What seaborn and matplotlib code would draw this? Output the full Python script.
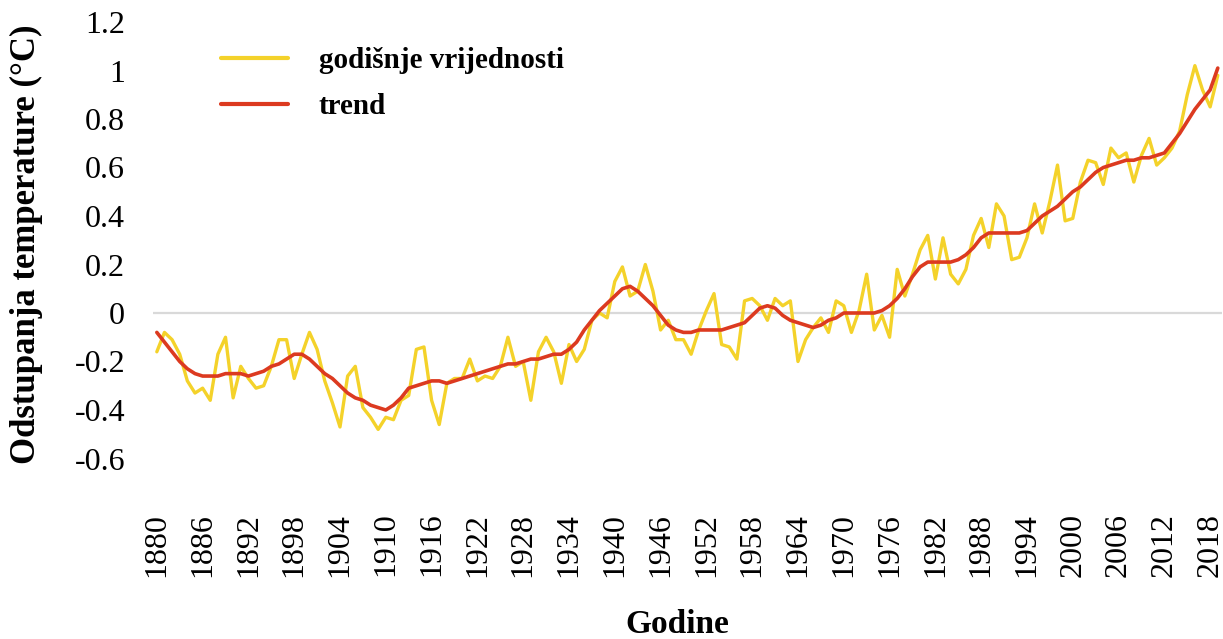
import matplotlib
matplotlib.use("Agg")
import matplotlib.pyplot as plt
import seaborn as sns
import pandas as pd

years = list(range(1880, 2020))

annual = [
    -0.16, -0.08, -0.11, -0.17, -0.28, -0.33, -0.31, -0.36, -0.17, -0.10,
    -0.35, -0.22, -0.27, -0.31, -0.30, -0.22, -0.11, -0.11, -0.27, -0.17,
    -0.08, -0.15, -0.28, -0.37, -0.47, -0.26, -0.22, -0.39, -0.43, -0.48,
    -0.43, -0.44, -0.36, -0.34, -0.15, -0.14, -0.36, -0.46, -0.29, -0.27,
    -0.27, -0.19, -0.28, -0.26, -0.27, -0.22, -0.10, -0.22, -0.20, -0.36,
    -0.16, -0.10, -0.16, -0.29, -0.13, -0.20, -0.15, -0.03, -0.00, -0.02,
    0.13, 0.19, 0.07, 0.09, 0.20, 0.09, -0.07, -0.03, -0.11, -0.11,
    -0.17, -0.07, 0.01, 0.08, -0.13, -0.14, -0.19, 0.05, 0.06, 0.03,
    -0.03, 0.06, 0.03, 0.05, -0.20, -0.11, -0.06, -0.02, -0.08, 0.05,
    0.03, -0.08, 0.01, 0.16, -0.07, -0.01, -0.10, 0.18, 0.07, 0.16,
    0.26, 0.32, 0.14, 0.31, 0.16, 0.12, 0.18, 0.32, 0.39, 0.27,
    0.45, 0.40, 0.22, 0.23, 0.31, 0.45, 0.33, 0.46, 0.61, 0.38,
    0.39, 0.54, 0.63, 0.62, 0.53, 0.68, 0.64, 0.66, 0.54, 0.65,
    0.72, 0.61, 0.64, 0.68, 0.75, 0.90, 1.02, 0.92, 0.85, 0.98,
]

trend = [
    -0.08, -0.12, -0.16, -0.20, -0.23, -0.25, -0.26, -0.26, -0.26, -0.25,
    -0.25, -0.25, -0.26, -0.25, -0.24, -0.22, -0.21, -0.19, -0.17, -0.17,
    -0.19, -0.22, -0.25, -0.27, -0.30, -0.33, -0.35, -0.36, -0.38, -0.39,
    -0.40, -0.38, -0.35, -0.31, -0.30, -0.29, -0.28, -0.28, -0.29, -0.28,
    -0.27, -0.26, -0.25, -0.24, -0.23, -0.22, -0.21, -0.21, -0.20, -0.19,
    -0.19, -0.18, -0.17, -0.17, -0.15, -0.12, -0.07, -0.03, 0.01, 0.04,
    0.07, 0.10, 0.11, 0.09, 0.06, 0.03, -0.01, -0.05, -0.07, -0.08,
    -0.08, -0.07, -0.07, -0.07, -0.07, -0.06, -0.05, -0.04, -0.01, 0.02,
    0.03, 0.02, -0.01, -0.03, -0.04, -0.05, -0.06, -0.05, -0.03, -0.02,
    0.00, 0.00, 0.00, 0.00, 0.00, 0.01, 0.03, 0.06, 0.10, 0.15,
    0.19, 0.21, 0.21, 0.21, 0.21, 0.22, 0.24, 0.27, 0.31, 0.33,
    0.33, 0.33, 0.33, 0.33, 0.34, 0.37, 0.40, 0.42, 0.44, 0.47,
    0.50, 0.52, 0.55, 0.58, 0.60, 0.61, 0.62, 0.63, 0.63, 0.64,
    0.64, 0.65, 0.66, 0.70, 0.74, 0.79, 0.84, 0.88, 0.92, 0.97,
]
trend[-1] = 1.01

y_ticks = [-0.6, -0.4, -0.2, 0, 0.2, 0.4, 0.6, 0.8, 1, 1.2]
y_tick_labels = ["-0.6", "-0.4", "-0.2", "0", "0.2", "0.4", "0.6", "0.8", "1", "1.2"]
x_tick_years = list(range(1880, 2019, 6))

label_annual = "godišnje vrijednosti"
label_trend = "trend"
color_annual = "#F4D22A"
color_trend = "#DC3A20"

df = pd.DataFrame({"Godina": years, "annual": annual, "trend": trend})

sns.set_theme(style="white")
plt.rcParams["font.family"] = ["Liberation Serif", "DejaVu Serif"]
plt.rcParams["axes.unicode_minus"] = False
plt.rcParams["text.color"] = "black"
plt.rcParams["axes.labelcolor"] = "black"
plt.rcParams["xtick.color"] = "black"
plt.rcParams["ytick.color"] = "black"

fig = plt.figure(figsize=(12.23, 6.39), dpi=100)
ax = fig.add_axes([153 / 1223, (639 - 458.5) / 639, 1068.6 / 1223, 436.5 / 639])

ax.axhline(0, color="#D9D9D9", lw=1.6, zorder=1)

sns.lineplot(data=df, x="Godina", y="annual", color=color_annual,
             linewidth=2.4, label=label_annual, ax=ax, zorder=3)
sns.lineplot(data=df, x="Godina", y="trend", color=color_trend,
             linewidth=2.6, label=label_trend, ax=ax, zorder=4)

ax.set_xlim(1879.5, 2019.5)
ax.set_ylim(-0.6, 1.2)
ax.set_yticks(y_ticks)
ax.set_yticklabels(y_tick_labels, fontsize=23, color="black")
ax.set_xticks(x_tick_years)
ax.set_xticklabels([str(y) for y in x_tick_years], fontsize=23, rotation=90, color="black")
ax.tick_params(axis="y", length=0, pad=20)
ax.tick_params(axis="x", length=0, pad=39)
for s in ax.spines.values():
    s.set_visible(False)

ax.set_xlabel("Godine", fontsize=24, fontweight="bold", color="black")
ax.xaxis.set_label_coords((677 - 153) / 1068.6, -0.345)
ax.set_ylabel("Odstupanja temperature (°C)", fontsize=25, fontweight="bold", color="black")
ax.yaxis.set_label_coords(-0.103, 0.49)

handles, labels = ax.get_legend_handles_labels()
leg = ax.legend(handles, labels, loc="upper left",
                bbox_to_anchor=(221 / 1223, 1 - 47 / 639),
                bbox_transform=fig.transFigure, frameon=False,
                prop={"family": "Liberation Serif", "weight": "bold", "size": 21},
                handlelength=2.3, handletextpad=1.05, labelspacing=0.66,
                borderpad=0, borderaxespad=0)
for lh in leg.get_lines():
    lh.set_linewidth(3.0)
for t in leg.get_texts():
    t.set_color("black")

fig.savefig("out.png", dpi=100, facecolor="white")
